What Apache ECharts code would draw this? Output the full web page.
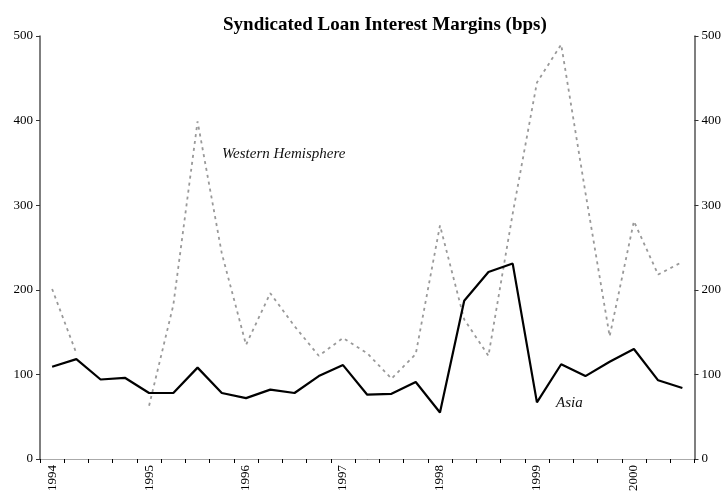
<!DOCTYPE html>
<html>
<head>
<meta charset="utf-8">
<script src="https://cdn.jsdelivr.net/npm/echarts@6/dist/echarts.min.js"></script>
<style>
html,body{margin:0;padding:0;background:#fff;}
#chart{width:724px;height:494px;}
</style>
</head>
<body>
<div id="chart"></div>
<script>
var categories = [
  '1994','1994Q2','1994Q3','1994Q4',
  '1995','1995Q2','1995Q3','1995Q4',
  '1996','1996Q2','1996Q3','1996Q4',
  '1997','1997Q2','1997Q3','1997Q4',
  '1998','1998Q2','1998Q3','1998Q4',
  '1999','1999Q2','1999Q3','1999Q4',
  '2000','2000Q2','2000Q3'
];
var asia = [109,118,94,96,78,78,108,78,72,82,78,98,111,76,77,91,55,187,221,231,67,112,98,115,130,93,84];
var westernHemisphere = [201,125,null,null,63,182,399,243,135,196,157,122,143,125,95,124,276,165,122,290,445,490,315,145,281,218,233];
var yTicks = [0,100,200,300,400,500];

var FONT = '"Liberation Serif", "Times New Roman", serif';
var chart = echarts.init(document.getElementById('chart'));
var yAxisCommon = {
  type: 'value', min: 0, max: 500, interval: 100,
  splitLine: {show: false},
  axisLine: {show: true, lineStyle: {color: '#555', width: 1.5}},
  axisTick: {show: true, length: 4, lineStyle: {color: '#333'}},
  axisLabel: {color: '#000', fontFamily: FONT, fontSize: 13, margin: 7,
    formatter: function (v) { return yTicks.indexOf(v) >= 0 ? String(v) : ''; }}
};
chart.setOption({
  animation: false,
  backgroundColor: '#fff',
  title: {
    text: 'Syndicated Loan Interest Margins (bps)',
    left: 218, top: 11,
    textStyle: {fontFamily: FONT, fontWeight: 'bold', fontSize: 19, color: '#000'}
  },
  grid: {left: 40, right: 28, top: 36, bottom: 32.5, containLabel: false},
  xAxis: [{
    type: 'category', data: categories, boundaryGap: true, position: 'bottom',
    axisLine: {lineStyle: {color: '#000', width: 1}},
    axisTick: {show: true, interval: 0, length: 4, lineStyle: {color: '#000'}},
    axisLabel: {interval: 3, rotate: 90, margin: 6, color: '#000', fontFamily: FONT, fontSize: 13,
      formatter: function (v) { return v.length === 4 ? v : ''; }},
    splitLine: {show: false}
  }, {
    type: 'category', data: categories, position: 'top',
    axisLine: {show: true, lineStyle: {color: '#aaa', width: 1}},
    axisTick: {show: false}, axisLabel: {show: false}, splitLine: {show: false}
  }],
  yAxis: [
    Object.assign({}, yAxisCommon, {position: 'left'}),
    Object.assign({}, yAxisCommon, {position: 'right'})
  ],
  series: [{
    name: 'Western Hemisphere', type: 'line', data: westernHemisphere,
    symbol: 'none', connectNulls: false,
    lineStyle: {color: '#999', width: 1.8, type: [3, 4]}
  }, {
    name: 'Asia', type: 'line', data: asia,
    symbol: 'none',
    lineStyle: {color: '#000', width: 2.2}
  }],
  graphic: [{
    type: 'text', left: 222, top: 147,
    style: {text: 'Western Hemisphere', font: 'italic 15px ' + FONT, fill: '#111'}
  }, {
    type: 'text', left: 556, top: 396,
    style: {text: 'Asia', font: 'italic 15px ' + FONT, fill: '#111'}
  }]
});
</script>
</body>
</html>
